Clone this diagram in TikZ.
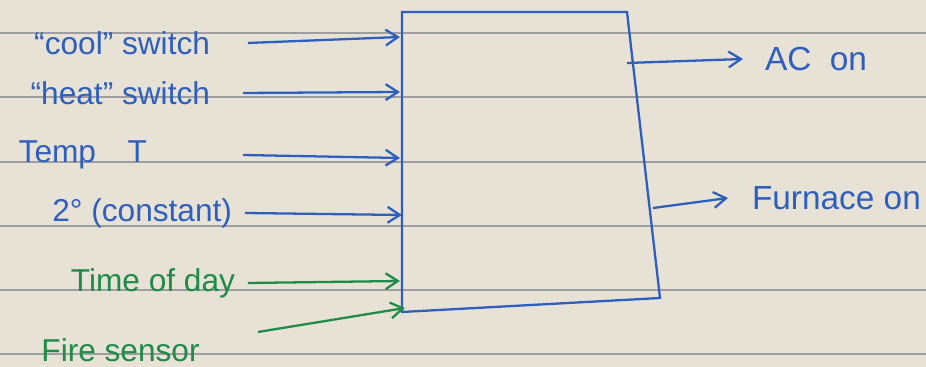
\documentclass[tikz,border=0pt]{standalone}
\usepackage{fontspec}
\setmainfont{Liberation Sans}
\usepackage{xcolor}
\usepackage{tikz}
\usetikzlibrary{arrows.meta, positioning}
\definecolor{paper}{RGB}{232,226,214}
\definecolor{rule}{RGB}{158,158,160}
\definecolor{inkblue}{RGB}{45,95,190}
\definecolor{inkgreen}{RGB}{30,140,70}
\tikzstyle{arrow} = [line width=1.3pt,-{Straight Barb[length=7pt,width=9pt]}]
\tikzstyle{inlbl} = [anchor=east, inner sep=0pt, font=\fontsize{18}{20}\selectfont]
\tikzstyle{outlbl} = [anchor=west, inner sep=0pt, font=\fontsize{19}{21}\selectfont]

\begin{document}
\begin{tikzpicture}
    % Paper and ruled lines
    \fill[paper] (0,0) rectangle (18.52,7.34);
    \useasboundingbox (0,0) rectangle (18.52,7.34);
    \foreach \y in {6.68,5.40,4.10,2.82,1.54,0.26}
        \draw[rule, line width=0.8pt] (0,\y) -- (18.52,\y);

    % Controller box (hand drawn, right side leans out)
    \coordinate (tl) at (8.04,7.10);
    \coordinate (tr) at (12.54,7.10);
    \coordinate (br) at (13.20,1.38);
    \coordinate (bl) at (8.04,1.10);
    \draw[inkblue, line width=1.3pt] (tl) -- (tr) -- (br) -- (bl) -- cycle;

    % Input ends on the left edge
    \coordinate (in1) at (8.00,6.60);
    \coordinate (in2) at (8.00,5.50);
    \coordinate (in3) at (8.00,4.18);
    \coordinate (in4) at (8.04,3.04);
    \coordinate (in5) at (8.00,1.72);
    \coordinate (in6) at (8.10,1.18);

    % Inputs
    \node[inlbl, inkblue, outer xsep=0.76cm] (cool) at (4.96,6.48) {``cool'' switch};
    \node[inlbl, inkblue, outer xsep=0.66cm] (heat) at (4.86,5.48) {``heat'' switch};
    \node[inlbl, inkblue, outer xsep=1.92cm] (temp) at (4.86,4.24) {Temp\quad T};
    \node[inlbl, inkblue, outer xsep=0.26cm] (margin) at (4.90,3.08) {2° (constant)};
    \node[inlbl, inkgreen, outer xsep=0.26cm] (tod) at (4.96,1.68) {Time of day};
    \node[inlbl, inkgreen] (fire) at (4.00,0.34) {Fire sensor};
    \coordinate (f0) at (5.16,0.70);

    \draw[arrow, inkblue] (cool.east) -- (in1);
    \draw[arrow, inkblue] (heat.east) -- (in2);
    \draw[arrow, inkblue] (temp.east) -- (in3);
    \draw[arrow, inkblue] (margin.east) -- (in4);
    \draw[arrow, inkgreen] (tod.east) -- (in5);
    \draw[arrow, inkgreen] (f0) -- (in6);

    % Outputs
    \coordinate (out1) at (12.54,6.08);
    \coordinate (out2) at (13.06,3.18);
    \node[outlbl, inkblue, outer xsep=0.44cm] (ac) at (14.86,6.16) {AC~~on};
    \node[outlbl, inkblue, outer xsep=0.48cm] (furnace) at (14.56,3.38) {Furnace on};
    \draw[arrow, inkblue] (out1) -- (ac.west);
    \draw[arrow, inkblue] (out2) -- (furnace.west);
\end{tikzpicture}
\end{document}
